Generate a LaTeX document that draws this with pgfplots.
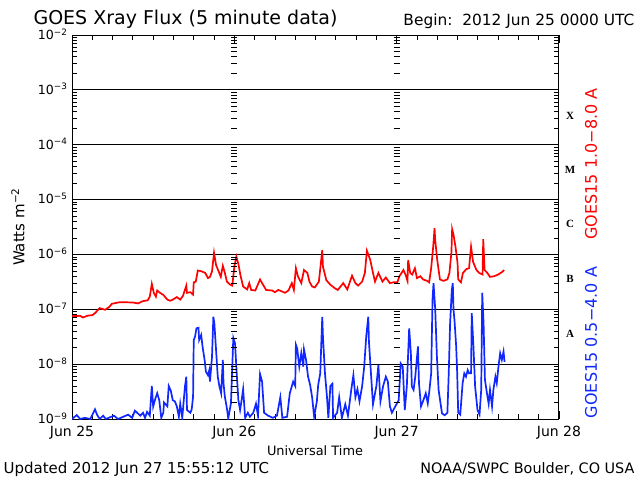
\documentclass[border=0pt]{standalone}
\usepackage{pgfplots}
\usepackage{pgfplotstable}
\pgfplotsset{compat=1.18}
\usepackage{fontspec}
\setmainfont{DejaVu Sans}
\newfontfamily\classfont{Liberation Serif}
\definecolor{goesred}{RGB}{255,0,0}
\definecolor{goesblue}{RGB}{16,40,255}

% hours since 2012 Jun 25 00:00 UTC, flux in W m^-2
\pgfplotstableread{
h f
0.0 7.5e-8
1.2 7.6e-8
1.6 7.1e-8
2.4 7.7e-8
3.0 7.8e-8
3.4 8.5e-8
4.1 1.05e-7
4.9 9.8e-8
5.5 1.1e-7
5.9 1.26e-7
7.1 1.35e-7
9.0 1.33e-7
9.8 1.28e-7
10.4 1.4e-7
11.2 1.46e-7
11.5 1.7e-7
11.8 2.9e-7
12.1 1.98e-7
12.4 1.7e-7
12.6 2.2e-7
13.0 2.0e-7
13.5 1.83e-7
14.1 1.5e-7
14.5 1.43e-7
14.9 1.5e-7
15.5 1.67e-7
16.0 1.5e-7
16.4 1.75e-7
16.9 2.7e-7
17.0 2.0e-7
17.5 2.05e-7
17.9 1.85e-7
18.0 3.1e-7
18.3 3.2e-7
18.6 5.1e-7
19.2 4.9e-7
19.7 4.6e-7
20.1 3.7e-7
20.4 3.9e-7
20.7 4.9e-7
21.0 1.07e-6
21.3 6.4e-7
21.6 5.2e-7
22.0 3.9e-7
22.3 6.2e-7
22.6 4.6e-7
22.9 3.2e-7
23.4 2.8e-7
23.7 2.7e-7
24.0 6.0e-7
24.3 9.1e-7
24.6 6.7e-7
24.9 4.2e-7
25.3 2.6e-7
25.9 2.3e-7
26.2 3.0e-7
26.5 2.25e-7
27.1 2.2e-7
27.8 3.5e-7
28.1 3.0e-7
28.7 2.25e-7
29.6 2.2e-7
30.0 2.05e-7
30.5 2.25e-7
31.1 2.1e-7
31.5 2.0e-7
32.0 2.2e-7
32.5 3.0e-7
32.8 2.25e-7
33.1 5.6e-7
33.4 4.0e-7
33.9 3.0e-7
34.3 5.2e-7
34.8 4.6e-7
35.1 3.2e-7
35.5 2.6e-7
35.9 2.5e-7
36.5 3.2e-7
37.0 1.2e-6
37.1 6.0e-7
37.6 3.4e-7
38.2 2.8e-7
38.9 2.4e-7
39.3 2.25e-7
40.1 3.0e-7
40.7 2.3e-7
41.4 4.1e-7
41.9 3.0e-7
42.3 2.7e-7
42.9 3.2e-7
43.3 4.6e-7
43.6 1.17e-6
44.1 7.9e-7
44.5 4.6e-7
44.8 3.2e-7
45.3 4.6e-7
45.9 3.2e-7
46.4 3.8e-7
47.0 3.0e-7
47.5 3.1e-7
48.1 3.1e-7
48.4 4.0e-7
49.0 5.2e-7
49.3 4.3e-7
49.6 3.3e-7
49.7 7.9e-7
50.0 4.6e-7
50.3 4.3e-7
50.7 5.6e-7
51.0 3.7e-7
51.5 4.0e-7
51.9 3.5e-7
52.5 3.3e-7
52.8 3.1e-7
53.1 5.6e-7
53.4 1.38e-6
53.6 3.0e-6
53.7 1.8e-6
54.0 7.9e-7
54.4 3.5e-7
54.9 3.3e-7
55.5 3.5e-7
55.8 4.6e-7
56.1 1.1e-6
56.2 2.9e-6
56.4 2.3e-6
56.7 1.38e-6
57.0 7.0e-7
57.1 3.5e-7
57.5 3.1e-7
57.8 4.6e-7
58.3 5.4e-7
58.7 5.6e-7
59.0 1.38e-6
59.3 7.3e-7
59.8 5.2e-7
60.2 4.6e-7
60.7 4.3e-7
60.8 1.9e-6
61.0 5.2e-7
61.4 4.6e-7
61.8 3.9e-7
62.4 4.0e-7
63.0 4.3e-7
63.6 4.8e-7
63.9 5.2e-7
}\redlong

\pgfplotstableread{
h f
0.0 1.0e-9
0.7 1.18e-9
1.2 1.0e-9
1.9 1.05e-9
2.7 1.0e-9
3.4 1.5e-9
3.7 1.2e-9
4.1 1.0e-9
4.6 1.15e-9
5.0 1.0e-9
6.2 1.15e-9
6.8 1.0e-9
8.3 1.2e-9
8.9 1.05e-9
9.3 1.42e-9
10.1 1.15e-9
10.5 1.3e-9
10.8 1.05e-9
11.1 1.35e-9
11.5 1.15e-9
11.8 4.0e-9
12.0 1.68e-9
12.3 2.3e-9
12.6 2.95e-9
12.9 2.2e-9
13.2 1.05e-9
13.5 1.3e-9
13.6 2.0e-9
14.1 1.7e-9
14.3 4.0e-9
14.6 3.3e-9
14.9 2.2e-9
15.2 2.1e-9
15.5 1.7e-9
15.8 1.1e-9
16.0 1.9e-9
16.3 1.05e-9
16.7 3.9e-9
16.9 5.9e-9
17.0 1.46e-9
17.5 1.3e-9
17.7 1.5e-9
17.9 2.55e-9
18.0 2.75e-8
18.2 3.2e-8
18.4 4.5e-8
18.7 4.6e-8
18.8 2.75e-8
19.1 3.4e-8
19.3 2.1e-8
19.6 1.2e-8
19.8 7.3e-9
20.1 6.3e-9
20.3 7.8e-9
20.4 4.8e-9
20.7 1.37e-8
20.9 7.3e-8
21.05 5.5e-8
21.3 1.8e-8
21.55 5.9e-9
21.8 3.9e-9
22.05 2.95e-9
22.3 1.2e-8
22.4 4.5e-9
22.6 2.55e-9
22.9 1.57e-9
23.1 1.03e-9
23.5 1.93e-9
23.85 3.0e-8
24.1 2.4e-8
24.35 6.8e-9
24.6 2.2e-9
24.85 1.46e-9
25.1 2.3e-9
25.3 3.5e-9
25.6 1.05e-9
26.0 1.3e-9
26.3 1.1e-9
26.8 1.3e-9
27.2 1.9e-9
27.5 1.15e-9
27.8 6.6e-9
28.1 4.8e-9
28.4 1.3e-9
29.0 1.15e-9
29.7 1.05e-9
30.3 1.15e-9
30.8 2.5e-9
31.1 1.05e-9
31.8 1.1e-9
32.2 2.95e-9
32.7 4.8e-9
33.0 4.0e-9
33.1 2.25e-8
33.3 1.9e-8
33.6 9.0e-9
33.9 1.6e-8
34.2 9.0e-9
34.3 1.85e-8
34.6 1.2e-8
34.9 5.9e-9
35.2 4.2e-9
35.5 2.5e-9
35.8 1.1e-9
36.2 2.1e-9
36.4 4.2e-9
36.7 6.8e-9
37.0 7.3e-8
37.1 3.2e-8
37.4 6.8e-9
37.7 2.5e-9
37.9 1.05e-9
38.2 4.0e-9
38.5 4.4e-9
38.6 1.05e-9
39.2 1.3e-9
39.5 2.5e-9
39.9 1.05e-9
40.4 1.85e-9
40.8 1.15e-9
41.3 3.5e-9
41.6 6.3e-9
41.9 2.5e-9
42.2 3.5e-9
42.5 2.1e-9
42.9 4.0e-9
43.2 9.0e-9
43.5 3.2e-8
43.8 7.3e-8
43.9 2.6e-8
44.2 6.8e-9
44.5 1.85e-9
45.0 4.0e-9
45.3 9.7e-9
45.6 2.1e-9
46.0 4.0e-9
46.4 5.9e-9
46.7 4.8e-9
47.0 1.7e-9
47.3 1.3e-9
47.8 1.7e-9
48.3 2.2e-9
48.6 1.03e-8
48.9 9.0e-9
49.2 1.46e-9
49.5 3.9e-9
49.85 4.5e-8
50.1 1.58e-8
50.25 3.9e-9
50.5 3.4e-9
50.75 5.9e-9
51.15 2.1e-8
51.3 4.5e-9
51.6 1.7e-9
51.95 2.2e-9
52.3 2.95e-9
52.6 1.93e-9
52.85 3.4e-9
53.1 6.8e-9
53.3 1.48e-7
53.45 3.0e-7
53.7 1.0e-7
53.95 1.37e-8
54.2 3.4e-9
54.7 1.27e-9
55.1 1.17e-9
55.5 1.3e-9
55.7 6.8e-9
55.9 5.5e-8
56.15 2.25e-7
56.3 3.0e-7
56.4 1.0e-7
56.55 6.3e-8
56.8 2.1e-8
56.95 6.8e-9
57.1 1.3e-9
57.4 1.2e-9
57.75 4.5e-9
58.0 6.8e-9
58.25 5.9e-9
58.5 7.8e-9
58.7 6.8e-9
59.0 6.8e-9
59.1 8.5e-8
59.35 2.1e-8
59.6 3.9e-9
59.95 1.46e-9
60.25 1.2e-9
60.5 3.4e-9
60.65 2.0e-7
60.85 5.5e-8
61.05 5.2e-9
61.35 2.95e-9
61.6 1.9e-9
61.8 3.4e-9
62.1 1.7e-9
62.3 3.4e-9
62.6 5.9e-9
62.8 4.5e-9
63.05 9.0e-9
63.3 1.58e-8
63.55 1.2e-8
63.8 1.7e-8
63.95 1.1e-8
}\blueshort

\begin{document}
\begin{tikzpicture}[x=1pt,y=1pt]
\path[use as bounding box, fill=white] (0,0) rectangle (640,480);
\begin{axis}[
  at={(72pt,61pt)}, anchor=south west,
  scale only axis, width=487pt, height=384pt,
  xmin=0, xmax=72, ymode=log, ymin=1e-9, ymax=1e-2,
  xtick={0,24,48,72},
  xticklabels={Jun 25,Jun 26,Jun 27,Jun 28},
  minor x tick num=7,
  ytick={1e-9,1e-8,1e-7,1e-6,1e-5,1e-4,1e-3,1e-2},
  yticklabels={10\textsuperscript{−9},10\textsuperscript{−8},10\textsuperscript{−7},10\textsuperscript{−6},10\textsuperscript{−5},10\textsuperscript{−4},10\textsuperscript{−3},10\textsuperscript{−2}},
  minor ytick={2e-9,3e-9,4e-9,5e-9,6e-9,7e-9,8e-9,9e-9,
    2e-8,3e-8,4e-8,5e-8,6e-8,7e-8,8e-8,9e-8,
    2e-7,3e-7,4e-7,5e-7,6e-7,7e-7,8e-7,9e-7,
    2e-6,3e-6,4e-6,5e-6,6e-6,7e-6,8e-6,9e-6,
    2e-5,3e-5,4e-5,5e-5,6e-5,7e-5,8e-5,9e-5,
    2e-4,3e-4,4e-4,5e-4,6e-4,7e-4,8e-4,9e-4,
    2e-3,3e-3,4e-3,5e-3,6e-3,7e-3,8e-3,9e-3},
  ymajorgrids, major grid style={black, line width=1pt},
  axis line style={line width=1pt},
  tick style={black, line width=0.8pt},
  major tick length=8pt, minor tick length=5pt,
  tick align=inside,
  xticklabel style={font=\fontsize{14}{16}\selectfont, yshift=-4pt},
  yticklabel style={font=\fontsize{12.6}{14}\selectfont, xshift=-1pt, yshift=1pt},
]
\addplot[goesred, line width=1.7pt, sharp plot] table[x=h, y=f] {\redlong};
\addplot[goesblue, line width=1.7pt, sharp plot] table[x=h, y=f] {\blueshort};
% minor tick columns on the day boundaries
\pgfplotsinvokeforeach{2e-9,3e-9,4e-9,5e-9,6e-9,7e-9,8e-9,9e-9,
    2e-8,3e-8,4e-8,5e-8,6e-8,7e-8,8e-8,9e-8,
    2e-7,3e-7,4e-7,5e-7,6e-7,7e-7,8e-7,9e-7,
    2e-6,3e-6,4e-6,5e-6,6e-6,7e-6,8e-6,9e-6,
    2e-5,3e-5,4e-5,5e-5,6e-5,7e-5,8e-5,9e-5,
    2e-4,3e-4,4e-4,5e-4,6e-4,7e-4,8e-4,9e-4,
    2e-3,3e-3,4e-3,5e-3,6e-3,7e-3,8e-3,9e-3}{
  \draw[black, line width=0.8pt] ([xshift=-3pt]axis cs:24,#1) -- ([xshift=3pt]axis cs:24,#1);
  \draw[black, line width=0.8pt] ([xshift=-3pt]axis cs:48,#1) -- ([xshift=3pt]axis cs:48,#1);
}
\end{axis}
% titles and labels
\node[anchor=base west, font=\fontsize{19}{22}\selectfont] at (30,455) {GOES Xray Flux (5 minute data)};
\node[anchor=base east, font=\fontsize{15.4}{18}\selectfont] at (638,454) {Begin:\ \ 2012 Jun 25 0000 UTC};
\node[rotate=90, font=\fontsize{15}{18}\selectfont] at (18,253) {Watts m\textsuperscript{−2}};
\node[font=\fontsize{12.9}{15}\selectfont] at (315,29) {Universal Time};
\node[anchor=base west, font=\fontsize{15}{18}\selectfont] at (0,7) {Updated 2012 Jun 27 15:55:12 UTC};
\node[anchor=base east, font=\fontsize{14.4}{17}\selectfont] at (638,7) {NOAA/SWPC Boulder, CO USA};
\node[rotate=90, text=goesred, font=\fontsize{16}{19}\selectfont] at (591,316) {GOES15 1.0−8.0 A};
\node[rotate=90, text=goesblue, font=\fontsize{16}{19}\selectfont] at (591,137.5) {GOES15 0.5−4.0 A};
\foreach \lab/\yy in {X/364,M/310,C/256,B/201,A/146}
  \node[font=\classfont\bfseries\fontsize{11}{13}\selectfont] at (570,\yy) {\lab};
\end{tikzpicture}
\end{document}
